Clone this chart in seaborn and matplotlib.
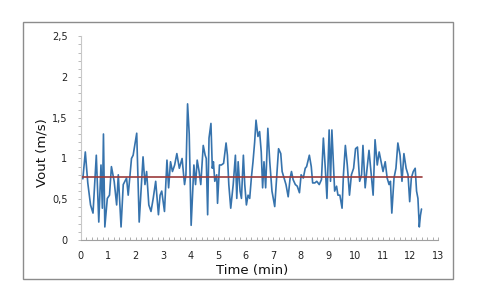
#!/usr/bin/env python3
import numpy as np
import pandas as pd
import matplotlib as mpl
mpl.use('Agg')
import matplotlib.pyplot as plt
from matplotlib.patches import Rectangle
from matplotlib.ticker import MultipleLocator
import seaborn as sns

# ------------------------------------------------------------------
# Data
# ------------------------------------------------------------------
time_min = [0.00, 0.08, 0.17, 0.26, 0.36, 0.45, 0.57, 0.66, 0.74, 0.79,
            0.83, 0.88, 0.97, 1.05, 1.12, 1.22, 1.31, 1.37, 1.47, 1.55,
            1.67, 1.73, 1.85, 1.91, 2.04, 2.13, 2.27, 2.34, 2.40, 2.48,
            2.56, 2.64, 2.73, 2.83, 2.89, 2.95, 3.05, 3.14, 3.20, 3.27,
            3.34, 3.42, 3.50, 3.59, 3.69, 3.78, 3.83, 3.89, 3.95, 4.02,
            4.07, 4.12, 4.18, 4.24, 4.31, 4.37, 4.46, 4.53, 4.57, 4.62,
            4.67, 4.74, 4.79, 4.83, 4.88, 4.95, 4.98, 5.05, 5.12, 5.20,
            5.29, 5.34, 5.39, 5.46, 5.55, 5.63, 5.68, 5.73, 5.80, 5.85,
            5.92, 5.97, 6.03, 6.09, 6.15, 6.21, 6.27, 6.33, 6.38, 6.45,
            6.51, 6.57, 6.62, 6.67, 6.73, 6.81, 6.88, 6.96, 7.06, 7.13,
            7.20, 7.28, 7.33, 7.40, 7.47, 7.55, 7.62, 7.67, 7.73, 7.81,
            7.88, 7.96, 8.02, 8.10, 8.17, 8.22, 8.32, 8.39, 8.44, 8.52,
            8.59, 8.68, 8.76, 8.83, 8.90, 8.96, 9.04, 9.09, 9.14, 9.19,
            9.24, 9.31, 9.36, 9.43, 9.51, 9.56, 9.63, 9.70, 9.78, 9.85,
            9.93, 10.00, 10.07, 10.15, 10.22, 10.27, 10.35, 10.42, 10.49, 10.57,
            10.64, 10.71, 10.79, 10.86, 10.93, 11.00, 11.08, 11.15, 11.22, 11.27,
            11.32, 11.40, 11.47, 11.54, 11.62, 11.69, 11.76, 11.84, 11.91, 11.97,
            12.03, 12.10, 12.17, 12.22, 12.27, 12.32, 12.36, 12.40]

vout = [0.80, 0.75, 1.08, 0.70, 0.43, 0.33, 1.04, 0.22, 0.92, 0.39,
        1.30, 0.16, 0.51, 0.55, 0.90, 0.72, 0.43, 0.80, 0.16, 0.68,
        0.76, 0.55, 1.00, 1.04, 1.31, 0.22, 1.02, 0.68, 0.84, 0.43,
        0.35, 0.51, 0.72, 0.31, 0.55, 0.60, 0.35, 0.98, 0.64, 0.96,
        0.84, 0.92, 1.06, 0.88, 1.00, 0.68, 0.80, 1.67, 1.30, 0.18,
        0.55, 0.92, 0.68, 0.98, 0.84, 0.68, 1.16, 1.04, 1.00, 0.31,
        1.25, 1.43, 0.88, 0.96, 0.72, 0.80, 0.45, 0.92, 0.92, 0.94,
        1.19, 1.04, 0.68, 0.39, 0.68, 1.04, 0.51, 0.96, 0.60, 0.51,
        1.04, 0.68, 0.43, 0.55, 0.51, 0.76, 0.96, 1.20, 1.47, 1.27,
        1.33, 1.08, 0.64, 0.96, 0.64, 1.37, 0.96, 0.60, 0.41, 0.76,
        1.12, 1.06, 0.84, 0.76, 0.68, 0.53, 0.76, 0.84, 0.74, 0.68,
        0.66, 0.58, 0.80, 0.76, 0.88, 0.90, 1.04, 0.90, 0.70, 0.70,
        0.72, 0.68, 0.74, 1.25, 0.88, 0.51, 1.35, 0.72, 1.35, 0.96,
        0.60, 0.66, 0.55, 0.55, 0.39, 0.80, 1.16, 0.92, 0.55, 0.80,
        0.88, 1.12, 1.14, 0.72, 0.80, 1.16, 0.64, 0.88, 1.10, 0.80,
        0.55, 1.23, 0.92, 1.08, 0.96, 0.84, 0.96, 0.76, 0.68, 0.72,
        0.33, 0.76, 0.88, 1.19, 1.04, 0.72, 1.06, 0.88, 0.80, 0.47,
        0.76, 0.84, 0.88, 0.60, 0.51, 0.16, 0.30, 0.38]

mean_vout = 0.77
y_ticks = [0, 0.5, 1, 1.5, 2, 2.5]
y_tick_labels = ['0', '0,5', '1', '1,5', '2', '2,5']
x_ticks = list(range(0, 14))

# ------------------------------------------------------------------
# Plot
# ------------------------------------------------------------------
sns.set_style('white')
plt.rcParams['font.family'] = ['DejaVu Sans']

df = pd.DataFrame({'t': time_min, 'v': vout})
df_mean = pd.DataFrame({'t': [time_min[0], time_min[-1]],
                        'v': [mean_vout, mean_vout]})

fig = plt.figure(figsize=(4.8, 3.06), dpi=100)
ax = fig.add_axes([0.168, 0.2157, 0.7445, 0.666])

sns.lineplot(data=df, x='t', y='v', ax=ax, color='#3673AD', lw=1.2)
sns.lineplot(data=df_mean, x='t', y='v', ax=ax, color='#9B3B3B', lw=1.2)

ax.set_xlim(0, 13)
ax.set_ylim(0, 2.5)
ax.set_xticks(x_ticks)
ax.set_yticks(y_ticks)
ax.set_yticklabels(y_tick_labels)
ax.xaxis.set_minor_locator(MultipleLocator(0.2))
ax.yaxis.set_minor_locator(MultipleLocator(0.1))

sns.despine(ax=ax, top=True, right=True)
ax.spines['left'].set_color('#c8c8c8')
ax.spines['bottom'].set_color('#a0a0a0')
ax.spines['left'].set_linewidth(0.8)
ax.spines['bottom'].set_linewidth(0.8)

ax.tick_params(axis='y', which='both', direction='out', length=2.5,
               width=0.6, color='#b0b0b0', labelsize=7, pad=7,
               left=True, labelcolor='#222222')
ax.tick_params(axis='x', which='both', direction='in', length=2.5,
               width=0.6, color='#a0a0a0', labelsize=7, pad=8,
               bottom=True, labelcolor='#222222')

ax.set_xlabel('Time (min)', fontsize=9.5, color='#111111')
ax.set_ylabel('Vout (m/s)', fontsize=9.5, color='#111111')
ax.xaxis.set_label_coords(0.48, -0.118)
ax.yaxis.set_label_coords(-0.09, 0.43)

# chart-area frame
fig.patches.append(Rectangle((23 / 480, 27 / 306), 430 / 480, 257 / 306,
                             transform=fig.transFigure, fill=False,
                             ec='#8c8c8c', lw=1.0))

fig.savefig('out.png', dpi=100)
